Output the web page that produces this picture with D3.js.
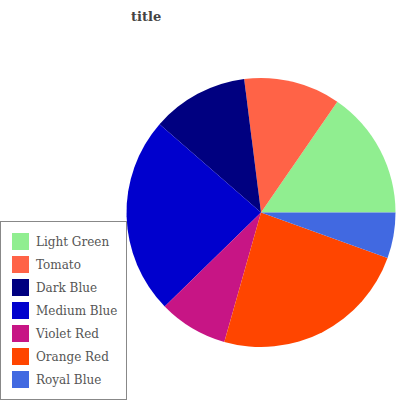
<!DOCTYPE html>
<html>
<head>
<meta charset="utf-8">
<script src="https://cdn.jsdelivr.net/npm/d3@7"></script>
<style>
  body { margin: 0; background: #fff; }
  svg { display: block; }
</style>
</head>
<body>
<div id="chart"></div>
<script>
// slice data, legend order (pie goes counter-clockwise from 3 o'clock)
var categories = ["Light Green", "Tomato", "Dark Blue", "Medium Blue", "Violet Red", "Orange Red", "Royal Blue"];
var values = [15.4, 11.6, 11.6, 23.7, 8.3, 23.9, 5.5];
var colors = ["#90ee90", "#ff6347", "#000080", "#0000cd", "#c71585", "#ff4500", "#4169e1"];
var titleText = "title";

var W = 400, H = 400;
var cx = 261, cy = 212.5, R = 134.5;

var svg = d3.select("#chart").append("svg")
    .attr("width", W)
    .attr("height", H);

var data = categories.map(function(c, i) {
    return { name: c, value: values[i], color: colors[i] };
});

var pie = d3.pie()
    .sort(null)
    .value(function(d) { return d.value; })
    .startAngle(Math.PI / 2)
    .endAngle(Math.PI / 2 - 2 * Math.PI);

var arc = d3.arc().innerRadius(0).outerRadius(R);

svg.append("g")
    .attr("transform", "translate(" + cx + "," + cy + ")")
    .selectAll("path")
    .data(pie(data))
    .enter().append("path")
    .attr("d", arc)
    .attr("fill", function(d) { return d.data.color; });

// title
svg.append("text")
    .attr("x", 131)
    .attr("y", 21)
    .attr("font-family", "DejaVu Serif, serif")
    .attr("font-weight", "bold")
    .attr("font-size", 13)
    .attr("fill", "#444")
    .text(titleText);

// legend
var legend = svg.append("g");
legend.append("rect")
    .attr("x", 0.5)
    .attr("y", 221.5)
    .attr("width", 126)
    .attr("height", 178)
    .attr("fill", "#fff")
    .attr("stroke", "#888");

var rows = legend.selectAll("g.row")
    .data(data)
    .enter().append("g")
    .attr("class", "row")
    .attr("transform", function(d, i) { return "translate(12," + (233 + i * 23) + ")"; });

rows.append("rect")
    .attr("width", 17)
    .attr("height", 17)
    .attr("fill", function(d) { return d.color; });

rows.append("text")
    .attr("x", 24)
    .attr("y", 13)
    .attr("font-family", "DejaVu Serif, serif")
    .attr("font-size", 12)
    .attr("fill", "#555")
    .text(function(d) { return d.name; });
</script>
</body>
</html>
